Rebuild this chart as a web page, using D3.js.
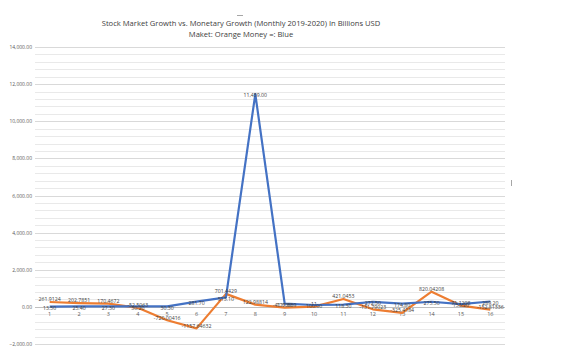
<!DOCTYPE html>
<html>
<head>
<meta charset="utf-8">
<script src="https://cdn.jsdelivr.net/npm/d3@7/dist/d3.min.js"></script>
<style>
  body { margin: 0; background: #fff; }
  svg { display: block; font-family: "Open Sans", "Liberation Sans", sans-serif; }
</style>
</head>
<body>
<svg class="canvas"></svg>
<script>
// chart size
var dwidth = 564;
var dheight = 354;

// data
var months = ["1","2","3","4","5","6","7","8","9","10","11","12","13","14","15","16"];
var money = [13.50, 25.40, 27.30, 30.20, 30.30, 281.70, 513.10, 11459.00, 177.80, 100.00, 118.30, 272.50, 174.80, 275.50, 153.20, 289.20];
var market = [261.9124, 202.7851, 170.4672, -52.5063, -720.00416, -1157.64632, 701.4429, 122.98814, -41.60869, 11.0000, 421.0453, -131.79023, -325.4184, 820.04208, 71.1208, -152.81336];
var yTicks = [-2000, 0, 2000, 4000, 6000, 8000, 10000, 12000, 14000];
var titleLines = ["Stock Market Growth vs. Monetary Growth (Monthly 2019-2020) In Billions USD", "Maket: Orange Money =: Blue"];

var canv = d3.select(".canvas").attr("width", dwidth).attr("height", dheight);

// scales
var sx = d3.scaleBand().domain(months).range([35, 505]);
var sy = d3.scaleLinear().domain([-2000, 14000]).range([344, 47]);
var cx = function(d, i) { return sx(months[i]) + sx.bandwidth() / 2; };

// gridlines (minor every 400, major on the ticks)
var minor = d3.range(-2000, 14001, 400);
canv.append("g").selectAll("line").data(minor).enter().append("line")
  .attr("x1", 35).attr("x2", 505)
  .attr("y1", function(d) { return Math.round(sy(d)) + 0.5; })
  .attr("y2", function(d) { return Math.round(sy(d)) + 0.5; })
  .style("stroke", function(d) { return d % 2000 === 0 ? "#d9d9d9" : "#e9e9e9"; })
  .style("stroke-width", 1);

// y axis labels
var yAxis = d3.axisLeft(sy).tickValues(yTicks).tickSize(0).tickPadding(3)
  .tickFormat(function(d) { return d3.format(",.2f")(d); });
var ya = canv.append("g").attr("transform", "translate(35,0)").call(yAxis);
ya.select(".domain").remove();
ya.selectAll("text").attr("font-size", "5px").attr("fill", "#595959")
  .style("font-family", "'Open Sans', sans-serif");

// zero line
canv.append("line").attr("x1", 35).attr("x2", 505)
  .attr("y1", Math.round(sy(0)) + 0.5).attr("y2", Math.round(sy(0)) + 0.5)
  .style("stroke", "#bfbfbf");

// x axis labels under the zero line
var xAxis = d3.axisBottom(sx).tickSize(0).tickPadding(5);
var xa = canv.append("g").attr("transform", "translate(0," + sy(0) + ")").call(xAxis);
xa.select(".domain").remove();
xa.selectAll("text").attr("font-size", "5.5px").attr("fill", "#595959")
  .style("font-family", "'Open Sans', sans-serif");

// lines
var line = d3.line().x(cx).y(function(d) { return sy(d); });
canv.append("path").datum(market).attr("d", line)
  .style("fill", "none").style("stroke", "#ED7D31").style("stroke-width", 2.2)
  .style("stroke-linejoin", "round");
canv.append("path").datum(money).attr("d", line)
  .style("fill", "none").style("stroke", "#4472C4").style("stroke-width", 2.2)
  .style("stroke-linejoin", "round");

// data labels on the points (orange nudged up, blue nudged down)
function labels(vals, fmt, off) {
  canv.append("g").selectAll("text").data(vals).enter().append("text")
    .attr("x", cx)
    .attr("y", function(d) { return sy(d) + off; })
    .attr("dy", "0.35em")
    .attr("text-anchor", "middle")
    .attr("font-size", "5.2px")
    .attr("fill", "#404040")
    .text(fmt);
}
labels(market, function(d) { return String(d); }, -2.5);
labels(money, function(d) { return d3.format(",.2f")(d); }, 1.5);

// title
canv.append("g").selectAll("text").data(titleLines).enter().append("text")
  .attr("x", 241)
  .attr("y", function(d, i) { return 26 + i * 11; })
  .attr("text-anchor", "middle")
  .attr("font-size", "7.6px")
  .attr("fill", "#404040")
  .text(function(d) { return d; });

// frame handles
canv.append("line").attr("x1", 237).attr("x2", 243).attr("y1", 15.5).attr("y2", 15.5).style("stroke", "#a6a6a6");
canv.append("line").attr("x1", 511.5).attr("x2", 511.5).attr("y1", 180).attr("y2", 186).style("stroke", "#a6a6a6");
</script>
</body>
</html>
